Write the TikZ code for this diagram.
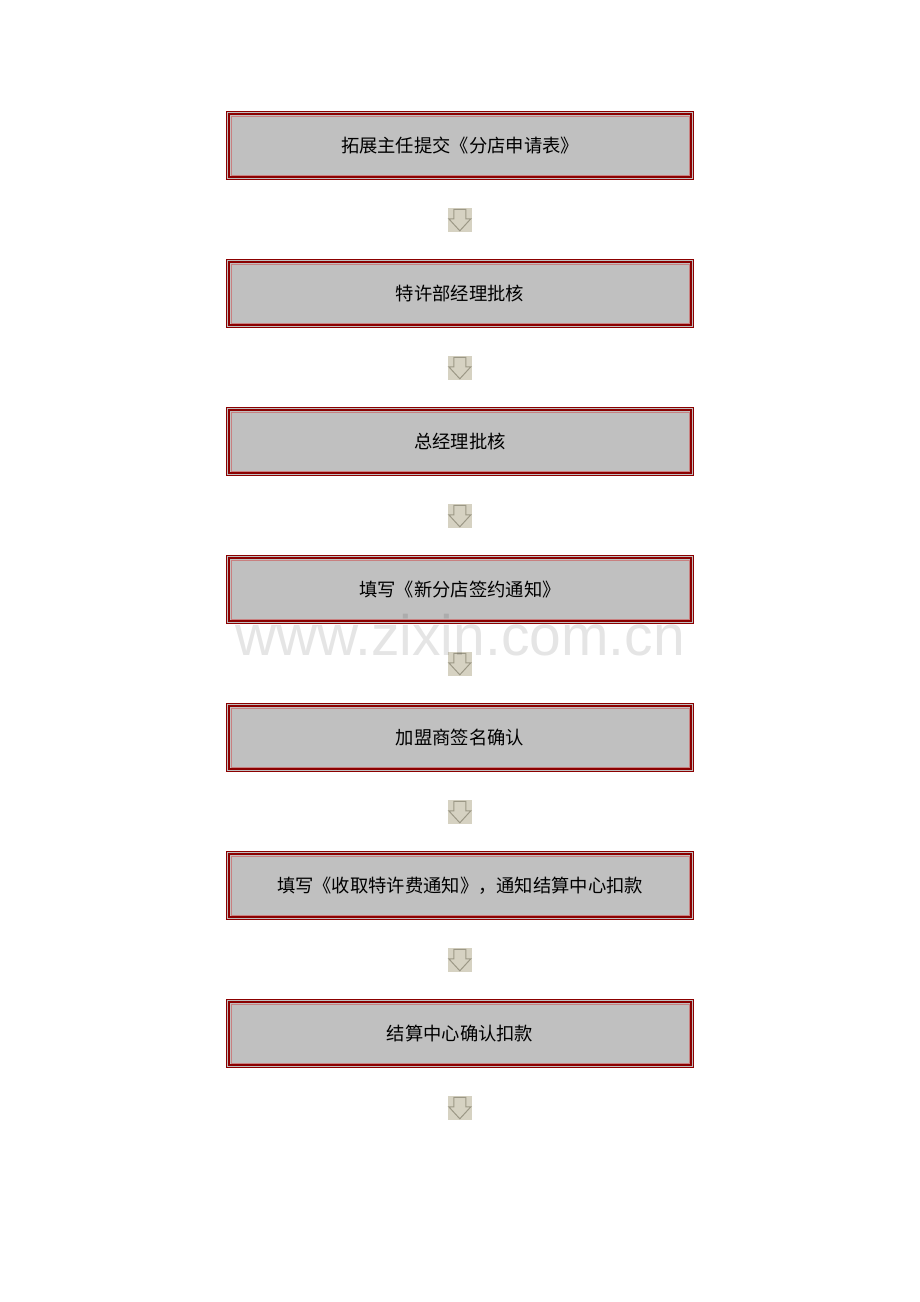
\documentclass[tikz,border=0pt]{standalone}
\usepackage{fontspec}
\newfontfamily\cjk{Noto Sans CJK SC}
\newfontfamily\wm{Liberation Sans}
\definecolor{boxred}{HTML}{8B0000}
\definecolor{boxpink}{HTML}{C88080}
\definecolor{boxgray}{HTML}{C0C0C0}
\definecolor{arrbg}{HTML}{D6D2C2}
\definecolor{arrline}{HTML}{9C9886}
\tikzset{
  stepbox/.style={draw=none, fill=boxgray, minimum width=468pt, minimum height=69pt, inner sep=0pt,
    font=\cjk\fontsize{18.3pt}{20pt}\selectfont, text=black},
}
\newcommand{\flowbox}[3]{%
  \node[stepbox] (#1) at (460,#2) {#3};
  \draw[boxred, line width=0.8pt] ([xshift=0.4pt,yshift=-0.4pt]#1.north west) rectangle ([xshift=-0.4pt,yshift=0.4pt]#1.south east);
  \draw[boxred, line width=2.2pt] ([xshift=3.3pt,yshift=-3.3pt]#1.north west) rectangle ([xshift=-3.3pt,yshift=3.3pt]#1.south east);
  \draw[boxpink, line width=1pt] ([xshift=5.2pt,yshift=-5.2pt]#1.north west) rectangle ([xshift=-5.2pt,yshift=5.2pt]#1.south east);
}
\newcommand{\downicon}[2]{%
  \node[fill=arrbg, minimum size=24pt, inner sep=0pt, draw=none] (#1) at (460,#2) {};
  \draw[arrline, line width=1pt, line join=miter]
    ([xshift=6pt,yshift=-1.5pt]#1.north west) -- ([xshift=18pt,yshift=-1.5pt]#1.north west)
    -- ([xshift=18pt,yshift=-11pt]#1.north west) -- ([xshift=23pt,yshift=-11pt]#1.north west)
    -- ([xshift=12pt,yshift=-23pt]#1.north west) -- ([xshift=1pt,yshift=-11pt]#1.north west)
    -- ([xshift=6pt,yshift=-11pt]#1.north west) -- cycle;
}
\begin{document}
\begin{tikzpicture}[x=1pt,y=-1pt]
\useasboundingbox (0,0) rectangle (920,1302);
\fill[white] (0,0) rectangle (920,1302);
\flowbox{b1}{145.5}{拓展主任提交《分店申请表》}
\downicon{a1}{220}
\flowbox{b2}{293.5}{特许部经理批核}
\downicon{a2}{368}
\flowbox{b3}{441.5}{总经理批核}
\downicon{a3}{516}
\flowbox{b4}{589.5}{填写《新分店签约通知》}
\downicon{a4}{664}
\flowbox{b5}{737.5}{加盟商签名确认}
\downicon{a5}{812}
\flowbox{b6}{885.5}{填写《收取特许费通知》，通知结算中心扣款}
\downicon{a6}{960}
\flowbox{b7}{1033.5}{结算中心确认扣款}
\downicon{a7}{1108}
\node[font=\wm\fontsize{57pt}{60pt}\selectfont, text=black, opacity=0.1, inner sep=0pt] (wmk) at (460,635) {www.zixin.com.cn};
\end{tikzpicture}
\end{document}
